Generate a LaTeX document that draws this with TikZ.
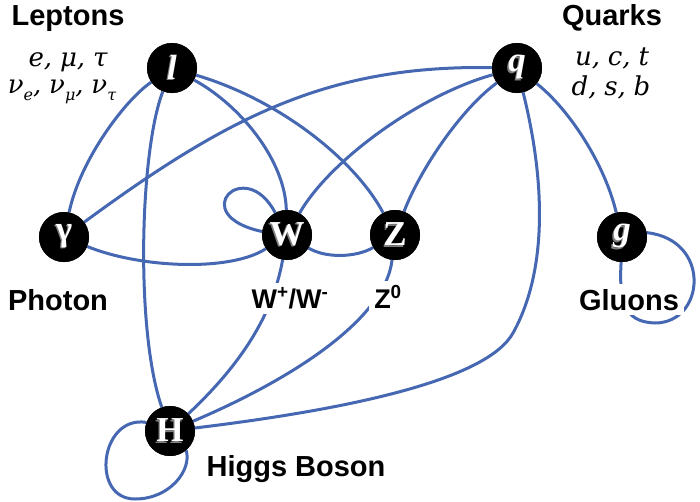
\documentclass[tikz,border=0pt]{standalone}
\usepackage{fontspec}
\setmainfont{Liberation Sans}
\newfontfamily\listfont{DejaVu Serif}
\newfontfamily\nodefont{Liberation Serif}
\definecolor{edgeblue}{RGB}{70,103,178}
\newcommand\shd[1]{\makebox[0pt][l]{\kern-1.3pt\raisebox{-1.3pt}{\textcolor{black!50}{#1}}}#1}
\newcommand\sbs[1]{\raisebox{-0.28em}{\fontsize{16}{16}\selectfont #1}}
\begin{document}
\begin{tikzpicture}[x=1pt,y=-1pt,
  part/.style={circle,fill=black,minimum size=50pt,inner sep=0pt,text=white,
    font=\nodefont\bfseries\fontsize{35}{35}\selectfont},
  lbl/.style={anchor=base,inner sep=0pt,font=\bfseries\fontsize{29}{29}\selectfont},
  sublbl/.style={anchor=base,fill=white,inner sep=5pt,font=\bfseries\fontsize{27}{27}\selectfont},
  plist/.style={anchor=base,inner sep=0pt,font=\listfont\itshape\fontsize{26}{26}\selectfont},
  conn/.style={draw=edgeblue,line width=3pt}]
\useasboundingbox (0,0) rectangle (700,501);
% particle nodes (named positions)
\node[part] (l) at (172,68) {\shd{\itshape l}};
\node[part] (q) at (517,68) {\shd{\itshape q}};
\node[part] (ga) at (64,237) {\shd{γ}};
\node[part] (W) at (287,235) {\shd{W}};
\node[part] (Z) at (395,235) {\shd{Z}};
\node[part] (g) at (622,237) {\shd{\itshape g}};
\node[part] (H) at (170,431) {\shd{H}};
% connectors
\path[conn] (l) .. controls (125,100) and (80,160) .. (ga);
\path[conn] (l) .. controls (140,150) and (135,330) .. (H);
\path[conn] (l) .. controls (240,105) and (285,160) .. (W);
\path[conn] (l) .. controls (280,100) and (355,160) .. (Z);
\path[conn] (q) .. controls (330,65) and (230,115) .. (ga);
\path[conn] (q) .. controls (420,95) and (330,160) .. (W);
\path[conn] (q) .. controls (460,110) and (420,170) .. (Z);
\path[conn] (q) .. controls (570,110) and (605,165) .. (g);
\coordinate (qh) at (513,333);
\path[conn] (q) .. controls (545,180) and (548,270) .. (qh) .. controls (488,378) and (360,408) .. (H);
\path[conn] (ga) .. controls (140,268) and (230,272) .. (W);
\path[conn] (W) .. controls (325,258) and (355,258) .. (Z);
\path[conn] (W.118) .. controls (245,155) and (185,215) .. (W.172);
\path[conn] (W) .. controls (272,320) and (235,370) .. (H);
\path[conn] (Z) .. controls (385,320) and (290,380) .. (H);
\coordinate (hl) at (135,499);
\path[conn] (H.160) .. controls (100,415) and (90,499) .. (hl) .. controls (170,499) and (192,470) .. (H.-50);
\coordinate (gl) at (655,323);
\path[conn] (g.-92) .. controls (618,310) and (630,322) .. (gl) .. controls (705,323) and (712,240) .. (g.10);
% nodes drawn again on top of the connectors
\node[part] at (l) {\shd{\itshape l}};
\node[part] at (q) {\shd{\itshape q}};
\node[part] at (ga) {\shd{γ}};
\node[part] at (W) {\shd{W}};
\node[part] at (Z) {\shd{Z}};
\node[part] at (g) {\shd{\itshape g}};
\node[part] at (H) {\shd{H}};
% labels
\node[lbl] (lep) at (68,25) {Leptons};
\node[lbl] (qua) at (612,25) {Quarks};
\node[lbl] (pho) at (58,310) {Photon};
\node[lbl] (hig) at (296,476) {Higgs Boson};
\node[sublbl] (wl) at (290,308) {W\textsuperscript{+}/W\textsuperscript{-}};
\node[sublbl] (zl) at (388,308) {Z\textsuperscript{0}};
\node[sublbl,font=\bfseries\fontsize{29}{29}\selectfont] (gll) at (629,310) {Gluons};
\node[plist] (lep1) at (68,66) {e,\hspace{0.3em}μ,\hspace{0.3em}τ};
\node[plist] (lep2) at (62,93) {ν\sbs{e},\hspace{0.3em}ν\sbs{μ},\hspace{0.3em}ν\sbs{τ}};
\node[plist] (qu1) at (612,65) {u,\hspace{0.3em}c,\hspace{0.3em}t};
\node[plist] (qu2) at (611,95) {d,\hspace{0.3em}s,\hspace{0.3em}b};
\end{tikzpicture}
\end{document}
